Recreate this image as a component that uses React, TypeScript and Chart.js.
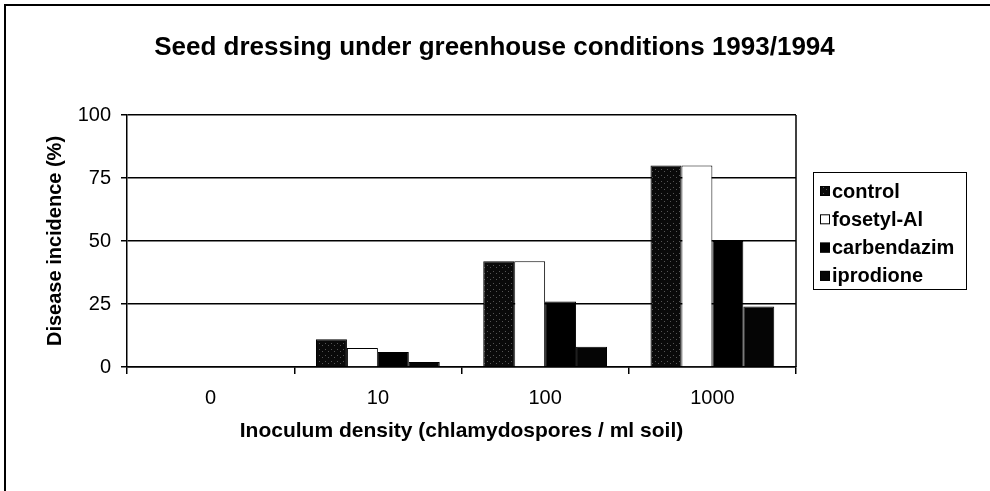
import React, { useEffect, useRef } from "react";
import { Chart, registerables } from "chart.js";

Chart.register(...registerables);

const titleText = "Seed dressing under greenhouse conditions 1993/1994";
const xTitleText = "Inoculum density (chlamydospores / ml soil)";
const yTitleText = "Disease incidence (%)";
const categories = ["0", "10", "100", "1000"];
const seriesNames = ["control", "fosetyl-Al", "carbendazim", "iprodione"];
const controlValues = [0, 11, 42, 80];
const fosetylValues = [0, 7.5, 42, 80];
const carbendazimValues = [0, 6, 26, 50];
const iprodioneValues = [0, 2, 8, 24];
const yTicks = [0, 25, 50, 75, 100];

const FONT = "'Liberation Sans', Arial, sans-serif";

function makeSpeckle(): CanvasPattern | string {
  const c = document.createElement("canvas");
  c.width = 6;
  c.height = 6;
  const ctx = c.getContext("2d");
  if (!ctx) return "#111";
  ctx.fillStyle = "#0a0a0a";
  ctx.fillRect(0, 0, 6, 6);
  ctx.fillStyle = "#555";
  ctx.fillRect(1, 1, 1, 1);
  ctx.fillRect(4, 3, 1, 1);
  const p = ctx.createPattern(c, "repeat");
  return p || "#111";
}

export default function App() {
  const ref = useRef<HTMLCanvasElement>(null);

  useEffect(() => {
    if (!ref.current) return;
    const speckle = makeSpeckle();
    const fills: any[] = [speckle, "#ffffff", "#000000", "#050505"];
    const values = [controlValues, fosetylValues, carbendazimValues, iprodioneValues];

    const decorPlugin = {
      id: "decor",
      afterDraw(chart: any) {
        const ctx = chart.ctx;
        const { right, top, bottom } = chart.chartArea;
        ctx.save();
        // chart title
        ctx.fillStyle = "#000";
        ctx.font = `bold 26px ${FONT}`;
        ctx.textAlign = "center";
        ctx.textBaseline = "middle";
        ctx.fillText(titleText, 494.5, 48);
        // plot area right border
        ctx.strokeStyle = "#000";
        ctx.lineWidth = 1.5;
        ctx.beginPath();
        ctx.moveTo(right, top);
        ctx.lineTo(right, bottom);
        ctx.stroke();
        // legend box
        const bx = 813, by = 172, bw = 153, bh = 117;
        ctx.lineWidth = 1;
        ctx.strokeRect(bx + 0.5, by + 0.5, bw, bh);
        ctx.font = `bold 20px ${FONT}`;
        ctx.textBaseline = "middle";
        ctx.textAlign = "left";
        chart.data.datasets.forEach((ds: any, i: number) => {
          const cy = 191 + i * 28.3;
          ctx.fillStyle = ds.backgroundColor;
          ctx.fillRect(820, cy - 5, 10, 10);
          ctx.strokeStyle = "#000";
          ctx.lineWidth = 1;
          ctx.strokeRect(820.5, cy - 4.5, 9, 9);
          ctx.fillStyle = "#000";
          ctx.fillText(ds.label, 832, cy + 1);
        });
        ctx.restore();
      },
    };

    const chart = new Chart(ref.current, {
      type: "bar",
      data: {
        labels: categories,
        datasets: seriesNames.map((name, i) => ({
          label: name,
          data: values[i],
          backgroundColor: fills[i],
          borderColor: "#000",
          borderWidth: 1,
          barPercentage: 1,
          categoryPercentage: 0.74,
        })),
      },
      options: {
        animation: false,
        responsive: false,
        events: [],
        layout: { padding: { left: 0, right: 194, top: 115, bottom: 0 } },
        plugins: {
          legend: { display: false },
          tooltip: { enabled: false },
          title: { display: false },
        },
        scales: {
          x: {
            offset: true,
            grid: {
              offset: true,
              drawOnChartArea: false,
              color: "#000",
              lineWidth: 1.5,
              tickLength: 7,
            },
            border: { display: true, color: "#000", width: 1.5 },
            ticks: {
              color: "#000",
              font: { family: FONT, size: 20 },
              padding: 12,
              maxRotation: 0,
            },
            title: {
              display: true,
              text: xTitleText,
              color: "#000",
              font: { family: FONT, size: 21, weight: "bold" },
              padding: { top: 10, bottom: 47 },
            },
            afterFit(scale: any) {
              scale.height = 124;
            },
          },
          y: {
            min: 0,
            max: 100,
            afterBuildTicks(scale: any) {
              scale.ticks = yTicks.map((v) => ({ value: v }));
            },
            grid: {
              color: "#000",
              lineWidth: 1.5,
              tickLength: 6,
            },
            border: { display: true, color: "#000", width: 1.5 },
            ticks: {
              color: "#000",
              font: { family: FONT, size: 20 },
              padding: 10,
            },
            title: {
              display: true,
              text: yTitleText,
              color: "#000",
              font: { family: FONT, size: 20, weight: "bold" },
              padding: { top: 43, bottom: 0 },
            },
            afterFit(scale: any) {
              scale.width = 127;
            },
          },
        },
      },
      plugins: [decorPlugin],
    });
    return () => chart.destroy();
  }, []);

  return (
    <div
      style={{
        position: "fixed",
        left: 0,
        top: 0,
        width: 990,
        height: 491,
        overflow: "hidden",
        background: "#fff",
      }}
    >
      <div
        style={{
          position: "absolute",
          left: 4,
          top: 4,
          width: 1100,
          height: 1100,
          borderLeft: "2px solid #000",
          borderTop: "2px solid #000",
        }}
      />
      <canvas
        ref={ref}
        width={990}
        height={491}
        style={{ position: "absolute", left: 0, top: 0, width: 990, height: 491 }}
      />
    </div>
  );
}
